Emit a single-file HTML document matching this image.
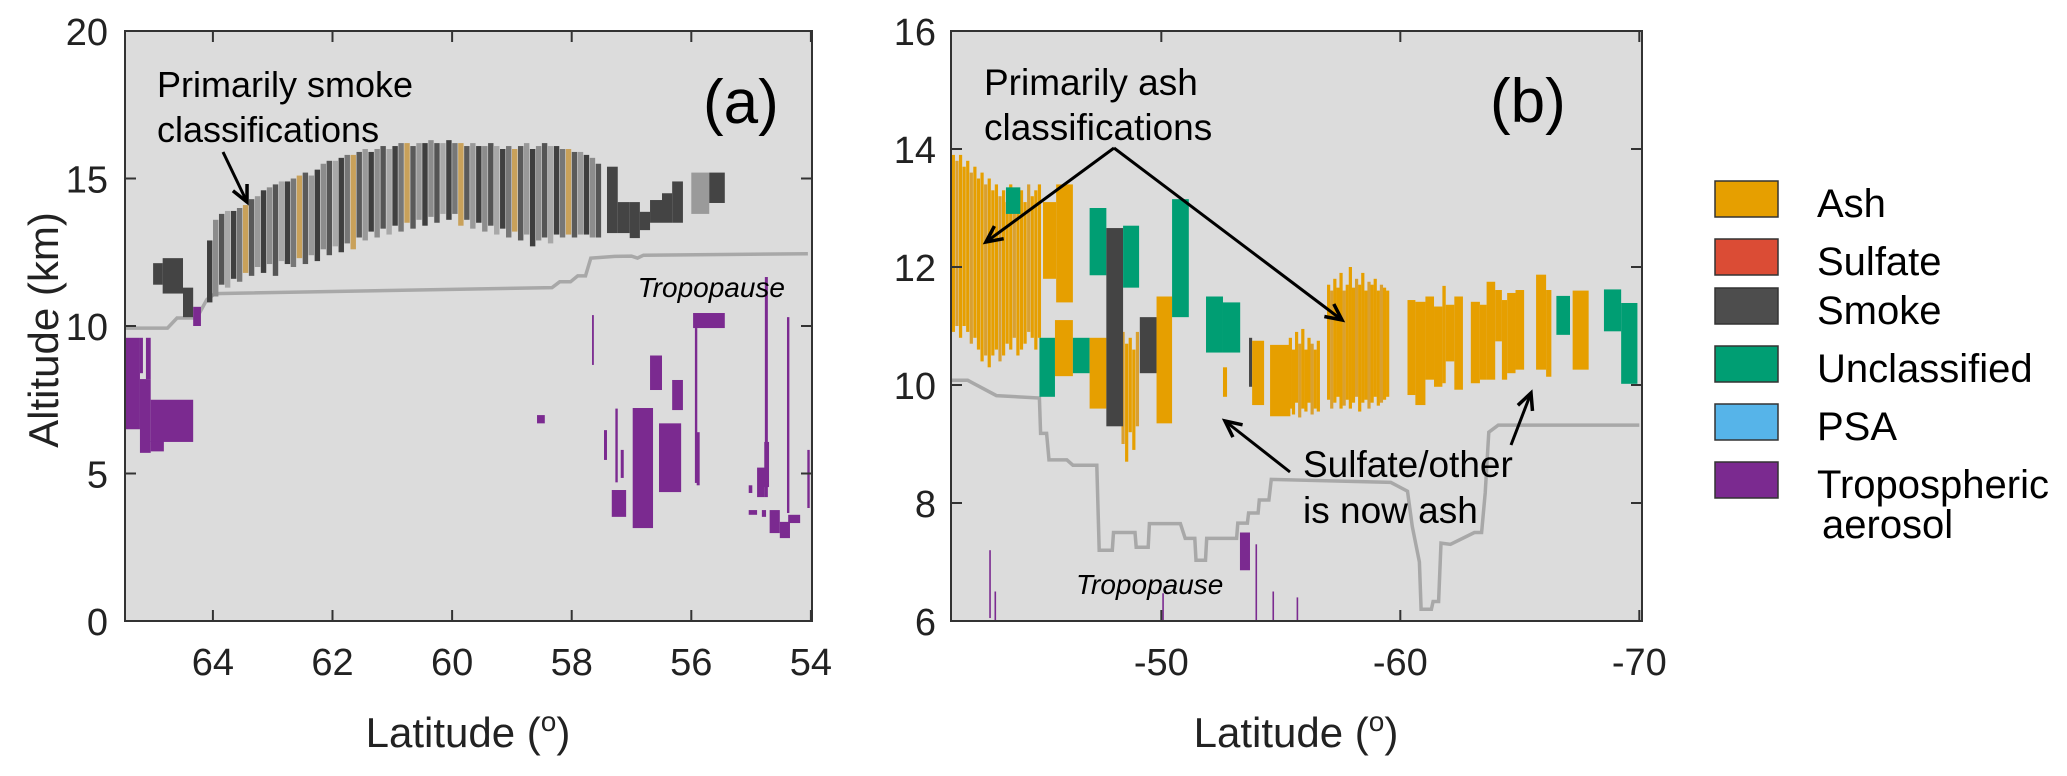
<!DOCTYPE html>
<html><head><meta charset="utf-8"><style>
html,body{margin:0;padding:0;background:#fff;}
svg{display:block;font-family:"Liberation Sans",Arial,sans-serif;}
</style></head><body>
<svg id="fig" width="2067" height="776" viewBox="0 0 2067 776" xmlns="http://www.w3.org/2000/svg">
<defs>
<clipPath id="clipA"><rect x="125" y="31" width="687" height="590"/></clipPath>
<clipPath id="clipB"><rect x="951" y="31" width="691" height="590"/></clipPath>
</defs>
<rect x="125" y="31" width="687" height="590" fill="#dcdcdc"/>
<rect x="951" y="31" width="691" height="590" fill="#dcdcdc"/>
<g id="gA" clip-path="url(#clipA)"></g>
<g id="gB" clip-path="url(#clipB)"></g>
<g id="axes"></g>
<g id="annot">
<text x="157" y="97" font-size="36">Primarily smoke</text>
<text x="157" y="142" font-size="36">classifications</text>
<text x="703" y="123" font-size="62">(a)</text>
<text x="785" y="297" font-size="28" font-style="italic" text-anchor="end">Tropopause</text>
<text x="984" y="95" font-size="37">Primarily ash</text>
<text x="984" y="140" font-size="37">classifications</text>
<text x="1490" y="122" font-size="62">(b)</text>
<text x="1076" y="594" font-size="28" font-style="italic">Tropopause</text>
<text x="1303" y="477" font-size="37">Sulfate/other</text>
<text x="1303" y="523" font-size="37">is now ash</text>
<text transform="translate(58,330) rotate(-90)" font-size="42" text-anchor="middle" fill="#222">Altitude (km)</text>
<text x="468" y="747" font-size="42" text-anchor="middle" fill="#222">Latitude (<tspan font-size="28" dy="-16">o</tspan><tspan dy="16">)</tspan></text>
<text x="1296" y="747" font-size="42" text-anchor="middle" fill="#222">Latitude (<tspan font-size="28" dy="-16">o</tspan><tspan dy="16">)</tspan></text>
</g>
<g id="legend"></g>
</svg>
<script>
// ---------- Panel (a) data ----------
const smokeLat = [64.05,63.95,63.85,63.75,63.65,63.55,63.45,63.35,63.25,63.15,63.05,62.95,62.85,62.75,62.65,62.55,62.45,62.35,62.25,62.15,62.05,61.95,61.85,61.75,61.65,61.55,61.45,61.35,61.25,61.15,61.05,60.95,60.85,60.75,60.65,60.55,60.45,60.35,60.25,60.15,60.05,59.95,59.85,59.75,59.65,59.55,59.45,59.35,59.25,59.15,59.05,58.95,58.85,58.75,58.65,58.55,58.45,58.35,58.25,58.15,58.05,57.95,57.85,57.75,57.65,57.55];
const smokeTop = [12.9,13.6,13.8,13.9,13.9,14.0,14.1,14.3,14.4,14.6,14.7,14.8,14.9,14.9,15.0,15.1,15.2,15.1,15.3,15.5,15.6,15.6,15.7,15.8,15.8,15.9,16.0,15.9,16.0,16.1,16.0,16.1,16.2,16.2,16.1,16.2,16.2,16.3,16.2,16.2,16.3,16.2,16.2,16.1,16.2,16.1,16.1,16.2,16.1,16.0,16.1,16.0,16.1,16.2,16.0,16.1,16.2,16.1,16.1,16.0,16.0,15.9,15.9,15.8,15.7,15.5];
const smokeBase = [10.8,11.0,11.4,11.3,11.6,11.5,11.8,11.7,12.0,11.8,12.1,11.7,12.2,12.1,12.0,12.3,12.1,12.4,12.2,12.6,12.4,12.7,12.5,12.8,12.6,13.0,12.9,13.2,13.0,13.3,13.1,13.4,13.2,13.5,13.3,13.6,13.4,13.7,13.5,13.8,13.6,13.8,13.4,13.6,13.3,13.5,13.2,13.4,13.1,13.3,13.0,13.2,12.9,13.1,12.7,12.9,13.0,12.8,13.1,13.0,13.1,13.0,13.1,13.1,13.0,13.0];
// block classifications in (a): [lat1, lat2, base km, top km]
const aBlkLat1 = [65.0,64.84,64.5,57.41,57.23,57.03,56.86,56.69,56.49,56.32,56.0,55.7,
 65.47,65.22,65.12,65.22,65.04,65.04,64.33,58.58,
 57.66,55.97,55.94,56.69,56.32,56.98,57.33,57.46,57.27,57.18,56.54,55.91,54.77,54.9,54.78,54.4,55.04,55.04,54.82,54.69,54.52,54.38,54.06];
const aBlkLat2 = [64.84,64.5,64.33,57.23,57.03,56.86,56.69,56.49,56.32,56.14,55.7,55.44,
 65.22,65.17,65.04,65.04,64.33,64.82,64.2,58.45,
 57.63,55.44,55.9,56.49,56.14,56.64,57.09,57.41,57.23,57.13,56.17,55.86,54.72,54.77,54.7,54.36,54.98,54.9,54.75,54.52,54.35,54.18,54.02];
const aBlkBase = [11.4,11.1,10.3,13.15,13.15,12.98,13.25,13.5,13.5,13.5,13.8,14.17,
 6.5,8.4,8.2,5.7,6.07,5.75,10.0,6.7,
 8.68,9.93,4.68,7.83,7.15,3.15,3.53,5.46,4.7,4.85,4.37,4.6,4.2,4.2,4.54,3.66,4.34,3.6,3.53,2.98,2.81,3.32,3.83];
const aBlkTop = [12.13,12.3,11.3,15.4,14.2,14.2,13.87,14.27,14.5,14.9,15.2,15.2,
 9.6,9.6,9.6,8.2,7.5,6.1,10.65,6.98,
 10.37,10.44,9.93,9.0,8.17,7.22,4.44,6.47,7.2,5.8,6.7,6.4,11.66,5.2,6.07,10.3,4.6,3.76,3.76,3.76,3.36,3.6,5.8];
const aBlkClass = ['smoke','smoke','smoke','smoke','smoke','smoke','smoke','smoke','smoke','smoke','mixed','smoke',
 'trop','trop','trop','trop','trop','trop','trop','trop',
 'trop','trop','trop','trop','trop','trop','trop','trop','trop','trop','trop','trop','trop','trop','trop','trop','trop','trop','trop','trop','trop','trop','trop'];
const tropoALat = [65.47,64.76,64.6,64.27,64.1,63.96,58.33,58.2,58.02,57.9,57.77,57.68,57.28,57.0,56.9,56.8,54.05];
const tropoAAlt = [9.93,9.93,10.27,10.27,10.9,11.1,11.3,11.5,11.5,11.7,11.7,12.3,12.36,12.37,12.3,12.4,12.45];
const xTicksA = [64,62,60,58,56,54];
const yTicksA = [0,5,10,15,20];

// ---------- Panel (b) data ----------
const bBlkLat1 = [-45.05,-45.6,-43.5,-44.9,-45.55,-46.3,-47.0,-47.0,-47.7,-48.4,-49.1,-49.8,-50.45,-51.87,-52.58,-52.58,-53.67,-53.8,-54.55,-60.30,-60.63,-61.05,-61.41,-61.76,-61.9,-62.26,-62.95,-63.33,-63.61,-63.97,-64.25,-64.47,-64.82,-65.68,-66.1,-66.53,-67.21,-68.52,-69.24,-42.8,-43.02,-53.29,-50.04,-53.94,-54.65,-55.66];
const bBlkLat2 = [-45.6,-46.3,-44.1,-45.55,-46.3,-47.0,-47.7,-47.7,-48.4,-49.07,-49.8,-50.45,-51.15,-52.58,-53.3,-52.75,-53.8,-54.3,-55.4,-60.63,-61.05,-61.41,-61.76,-61.9,-62.26,-62.62,-63.33,-63.61,-63.97,-64.25,-64.47,-64.82,-65.18,-66.1,-66.32,-67.1,-67.88,-69.24,-69.92,-42.86,-43.07,-53.71,-50.1,-53.98,-54.69,-55.7];
const bBlkBase = [11.8,11.4,12.9,9.8,10.15,10.2,9.6,11.86,9.3,11.65,10.2,9.35,11.15,10.55,10.55,9.8,9.97,9.66,9.47,9.83,9.66,10.09,9.97,10.03,10.4,9.92,10.03,10.09,10.09,10.74,10.09,10.2,10.26,10.26,10.14,10.85,10.26,10.91,10.02,6.05,6.0,6.86,6.0,6.0,6.0,6.0];
const bBlkTop = [13.1,13.4,13.35,10.8,11.1,10.8,10.8,13.0,12.66,12.7,11.15,11.5,13.15,11.5,11.4,10.3,10.8,10.75,10.68,11.44,11.41,11.5,11.33,11.68,11.36,11.5,11.41,11.36,11.75,11.61,11.44,11.56,11.61,11.87,11.61,11.51,11.6,11.62,11.39,7.2,6.5,7.5,6.47,7.3,6.5,6.4];
const bBlkClass = ['ash','ash','unclassified','unclassified','ash','unclassified','ash','unclassified','smoke','unclassified','smoke','ash','unclassified','unclassified','unclassified','ash','smoke','ash','ash','ash','ash','ash','ash','ash','ash','ash','ash','ash','ash','ash','ash','ash','ash','ash','ash','unclassified','ash','unclassified','unclassified','trop','trop','trop','trop','trop','trop','trop'];
// dense thin ash profiles
const ashLineLat = [-41.3,-41.45,-41.6,-41.75,-41.9,-42.05,-42.2,-42.35,-42.5,-42.65,-42.8,-42.95,-43.1,-43.25,-43.4,-43.55,-43.7,-43.85,-44.0,-44.15,-44.3,-44.45,-44.6,-44.75,-44.9,
 -48.4,-48.55,-48.7,-48.85,-49.0,
 -55.4,-55.53,-55.66,-55.79,-55.92,-56.05,-56.18,-56.31,-56.44,-56.57,
 -57.0,-57.13,-57.26,-57.39,-57.52,-57.65,-57.78,-57.91,-58.04,-58.17,-58.3,-58.43,-58.56,-58.69,-58.82,-58.95,-59.08,-59.21,-59.34,-59.47];
const ashLineTop = [13.9,13.8,13.9,13.7,13.8,13.6,13.7,13.5,13.6,13.4,13.5,13.3,13.4,13.2,13.3,13.1,13.4,13.2,13.0,13.3,13.1,13.4,13.2,13.3,13.4,
 10.9,10.7,10.8,10.6,10.9,
 10.8,10.6,10.9,10.7,10.95,10.6,10.8,10.7,10.6,10.75,
 11.7,11.6,11.8,11.65,11.9,11.6,11.7,12.0,11.65,11.8,11.7,11.9,11.6,11.75,11.7,11.8,11.6,11.7,11.65,11.6];
const ashLineBase = [10.9,11.0,10.8,11.0,10.9,10.7,10.8,10.6,10.4,10.5,10.3,10.5,10.6,10.4,10.5,10.7,10.6,10.8,10.5,10.6,10.7,10.9,10.8,10.6,10.8,
 9.0,8.7,9.2,8.9,9.3,
 9.6,9.5,9.7,9.45,9.6,9.55,9.7,9.5,9.6,9.55,
 9.75,9.6,9.7,9.8,9.6,9.65,9.75,9.6,9.7,9.8,9.55,9.7,9.75,9.6,9.7,9.8,9.65,9.7,9.75,9.8];
const tropoBLat = [-41.2,-41.9,-43.1,-44.9,-44.95,-45.2,-45.3,-46.05,-46.3,-47.3,-47.4,-47.95,-48.0,-48.9,-48.95,-49.45,-49.5,-50.8,-51.0,-51.4,-51.45,-51.85,-51.9,-53.15,-53.2,-53.6,-53.65,-54.05,-54.1,-54.5,-54.6,-59.6,-60.3,-60.5,-60.8,-60.87,-61.3,-61.37,-61.6,-61.7,-62.1,-63.1,-63.4,-63.55,-63.7,-64.1,-70];
const tropoBAlt = [10.08,10.08,9.82,9.78,9.18,9.18,8.73,8.73,8.64,8.64,7.2,7.2,7.5,7.5,7.25,7.25,7.65,7.65,7.4,7.4,7.03,7.03,7.4,7.4,7.66,7.66,7.83,7.83,8.05,8.05,8.4,8.35,8.2,7.6,7.0,6.2,6.2,6.33,6.33,7.32,7.3,7.5,7.5,8.17,9.2,9.32,9.32];
const xTicksB = [-50,-60,-70];
const yTicksB = [6,8,10,12,14,16];

// legend
const legendLabels = ['Ash','Sulfate','Smoke','Unclassified','PSA','Tropospheric'];
const legendColors = ['#E69F00','#DB4C35','#4D4D4D','#009E73','#56B4E9','#7B2A90'];

const colors = {ash:'#E69F00', smoke:'#444444', unclassified:'#009E73', trop:'#7B2A90', mixed:'#9a9a9a'};
const NS = 'http://www.w3.org/2000/svg';
const xa = lat => 125 + (65.47 - lat) * 59.8;
const ya = alt => 621 - alt * 29.5;
const xb = lat => 951 + (-41.2 - lat) * 23.9;
const yb = alt => 621 - (alt - 6) * 59;
function mk(tag, attrs, parent){const e=document.createElementNS(NS,tag);for(const k in attrs)e.setAttribute(k,attrs[k]);parent.appendChild(e);return e;}
const gA=document.getElementById('gA'), gB=document.getElementById('gB'), gAx=document.getElementById('axes'), gL=document.getElementById('legend');

function rectLat(g,xs,ys,l1,l2,b,t,fill,minW){
  let x1=xs(l1),x2=xs(l2); if(x2<x1){const q=x1;x1=x2;x2=q;}
  let w=Math.max(x2-x1,minW);
  return mk('rect',{x:x1,y:ys(t),width:w,height:ys(b)-ys(t),fill:fill},g);
}
function stepLine(g,xs,ys,lats,alts,name){
  let d='';for(let i=0;i<lats.length;i++){d+=(i?'L':'M')+xs(lats[i]).toFixed(1)+','+ys(alts[i]).toFixed(1);}
  const p=mk('path',{d:d,fill:'none',stroke:'#a8a8a8','stroke-width':3.5},g);
  
  
}
stepLine(gA,xa,ya,tropoALat,tropoAAlt,'tropopause-line-a');
stepLine(gB,xb,yb,tropoBLat,tropoBAlt,'tropopause-line-b');

// panel a blocks
for(let i=0;i<aBlkLat1.length;i++){
  const r=rectLat(gA,xa,ya,aBlkLat1[i],aBlkLat2[i],aBlkBase[i],aBlkTop[i],colors[aBlkClass[i]],1.8);
  
  
}
// smoke columns
const shade=['#3e3e3e','#8c8c8c','#555','#a8a8a8','#404040','#777','#c9a15a','#5a5a5a','#999'];
for(let i=0;i<smokeLat.length;i++){
  const x=xa(smokeLat[i]);
  const r=mk('rect',{x:x-2.9,y:ya(smokeTop[i]),width:5.4,height:ya(smokeBase[i])-ya(smokeTop[i]),fill:shade[i%shade.length]},gA);
  
  
}
// panel b dense ash lines
for(let i=0;i<ashLineLat.length;i++){
  const x=xb(ashLineLat[i]);
  const r=mk('rect',{x:x-1.6,y:yb(ashLineTop[i]),width:3.2,height:yb(ashLineBase[i])-yb(ashLineTop[i]),fill:(i%4==1)?'#d9a030':'#E69F00'},gB);
  
  
}
// panel b blocks
for(let i=0;i<bBlkLat1.length;i++){
  const r=rectLat(gB,xb,yb,bBlkLat1[i],bBlkLat2[i],bBlkBase[i],bBlkTop[i],colors[bBlkClass[i]],1.6);
  
  
}

// axes
function frame(x,y,w,h,name){const r=mk('rect',{x:x,y:y,width:w,height:h,fill:'none',stroke:'#333','stroke-width':2},gAx);
  
  }
frame(125,31,687,590,'panel-a-frame');
frame(951,31,691,590,'panel-b-frame');
xTicksA.forEach(v=>{const x=xa(v);
  mk('line',{x1:x,y1:621,x2:x,y2:610,stroke:'#333','stroke-width':2},gAx);
  mk('line',{x1:x,y1:31,x2:x,y2:42,stroke:'#333','stroke-width':2},gAx);
  const t=mk('text',{x:x,y:675,'font-size':38,'text-anchor':'middle',fill:'#222'},gAx);t.textContent=v;
  
  });
yTicksA.forEach(v=>{const y=ya(v);
  mk('line',{x1:125,y1:y,x2:136,y2:y,stroke:'#333','stroke-width':2},gAx);
  mk('line',{x1:812,y1:y,x2:801,y2:y,stroke:'#333','stroke-width':2},gAx);
  const t=mk('text',{x:108,y:y+14,'font-size':38,'text-anchor':'end',fill:'#222'},gAx);t.textContent=v;
  
  });
xTicksB.forEach(v=>{const x=xb(v);
  mk('line',{x1:x,y1:621,x2:x,y2:610,stroke:'#333','stroke-width':2},gAx);
  mk('line',{x1:x,y1:31,x2:x,y2:42,stroke:'#333','stroke-width':2},gAx);
  const t=mk('text',{x:x,y:675,'font-size':38,'text-anchor':'middle',fill:'#222'},gAx);t.textContent=v;
  
  });
yTicksB.forEach(v=>{const y=yb(v);
  mk('line',{x1:951,y1:y,x2:962,y2:y,stroke:'#333','stroke-width':2},gAx);
  mk('line',{x1:1642,y1:y,x2:1631,y2:y,stroke:'#333','stroke-width':2},gAx);
  const t=mk('text',{x:936,y:y+14,'font-size':38,'text-anchor':'end',fill:'#222'},gAx);t.textContent=v;
  
  });

// arrows
const an=document.getElementById('annot');
function arrow(x1,y1,x2,y2,name){
  const g=mk('g',{},an);
  
  
  mk('line',{x1:x1,y1:y1,x2:x2,y2:y2,stroke:'#000','stroke-width':3},g);
  const a=Math.atan2(y2-y1,x2-x1),L=18,s=0.45;
  mk('polyline',{points:(x2-L*Math.cos(a-s))+','+(y2-L*Math.sin(a-s))+' '+x2+','+y2+' '+(x2-L*Math.cos(a+s))+','+(y2-L*Math.sin(a+s)),fill:'none',stroke:'#000','stroke-width':3.5},g);
}
arrow(223,152,247,202,'smoke-arrow');
arrow(1114,148,986,242,'ash-arrow-left');
arrow(1114,148,1342,320,'ash-arrow-right');
arrow(1290,472,1225,421,'sulfate-arrow-left');
arrow(1511,445,1531,393,'sulfate-arrow-right');

// legend
const ly=[181,239,288,346,404,462];
legendLabels.forEach((lab,i)=>{
  const r=mk('rect',{x:1715,y:ly[i],width:63,height:36,fill:legendColors[i],stroke:'#333','stroke-width':1.5},gL);
  
  
  const t=mk('text',{x:1817,y:ly[i]+36,'font-size':40,fill:'#000'},gL);t.textContent=lab;
  
  
});
const t2=mk('text',{x:1822,y:538,'font-size':40,fill:'#000'},gL);t2.textContent='aerosol';


</script>
</body></html>
